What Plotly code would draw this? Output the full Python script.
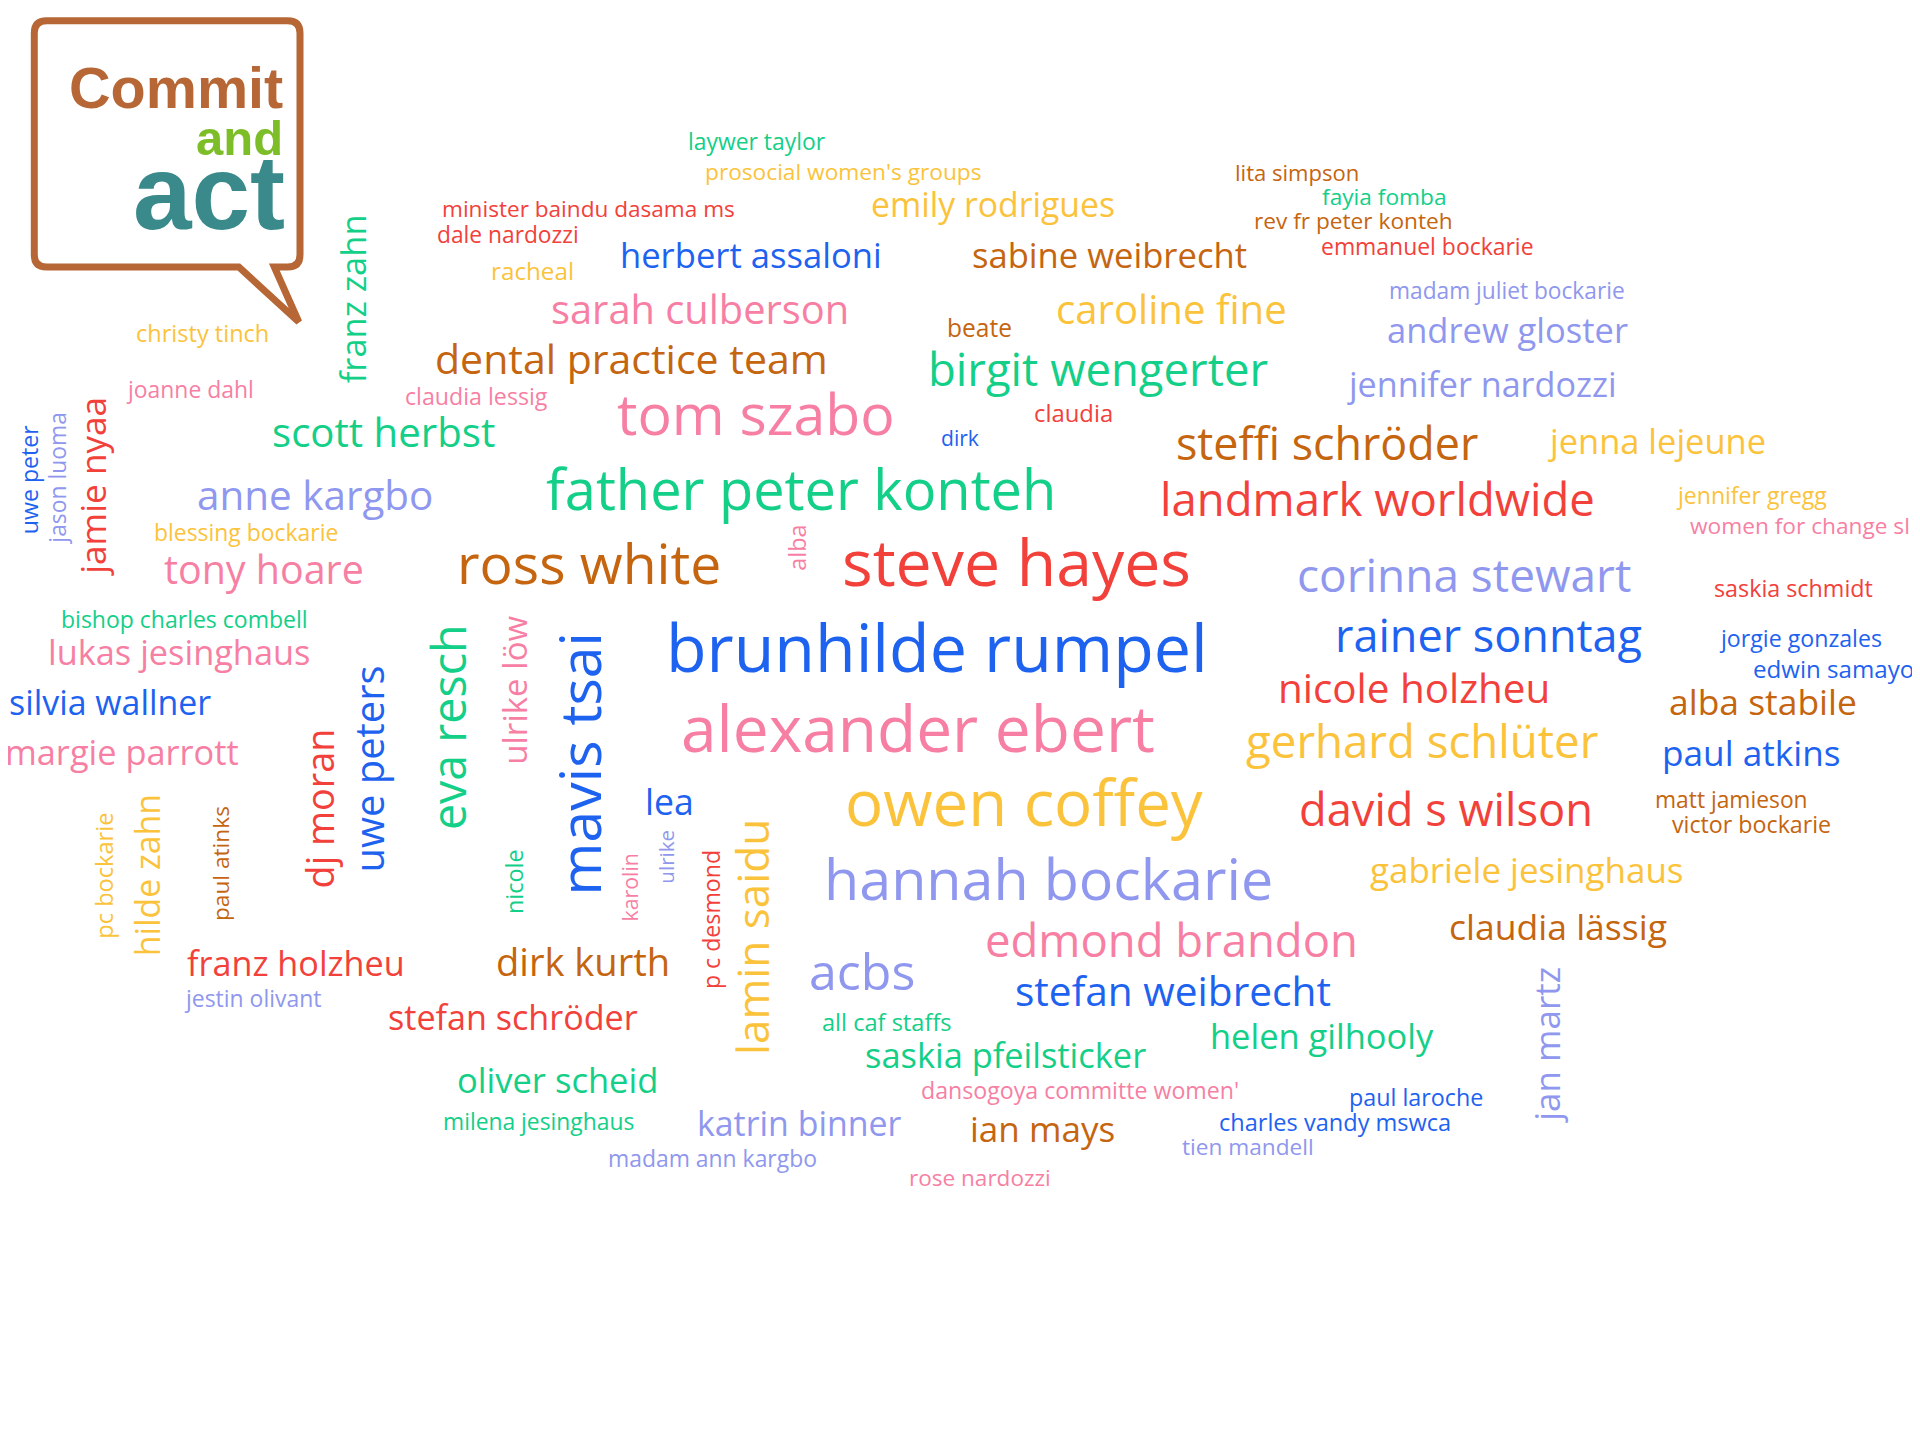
import plotly.graph_objects as go

# ---------------- data ----------------
BLUE, RED, PINK, GREEN = "#1E62F0", "#F2413B", "#F77FA4", "#13CF88"
YELLOW, BROWN, LAV = "#FBC33C", "#C5650F", "#8F97EE"

words = [
    "laywer taylor", "prosocial women's groups", "emily rodrigues", "minister baindu dasama ms",
    "dale nardozzi", "racheal", "herbert assaloni", "sabine weibrecht", "lita simpson",
    "fayia fomba", "rev fr peter konteh", "emmanuel bockarie", "madam juliet bockarie",
    "andrew gloster", "jennifer nardozzi", "sarah culberson", "beate", "caroline fine",
    "dental practice team", "birgit wengerter", "christy tinch", "joanne dahl",
    "claudia lessig", "tom szabo", "claudia", "dirk", "scott herbst", "steffi schröder",
    "jenna lejeune", "anne kargbo", "father peter konteh", "landmark worldwide",
    "jennifer gregg", "women for change sl", "blessing bockarie", "tony hoare",
    "ross white", "steve hayes", "corinna stewart", "saskia schmidt",
    "bishop charles combell", "lukas jesinghaus", "brunhilde rumpel", "rainer sonntag",
    "jorgie gonzales", "edwin samayoa", "nicole holzheu", "alba stabile", "silvia wallner",
    "margie parrott", "alexander ebert", "gerhard schlüter", "paul atkins", "lea",
    "owen coffey", "david s wilson", "matt jamieson", "victor bockarie", "hannah bockarie",
    "gabriele jesinghaus", "edmond brandon", "claudia lässig", "franz holzheu",
    "dirk kurth", "acbs", "jestin olivant", "stefan weibrecht", "stefan schröder",
    "all caf staffs", "saskia pfeilsticker", "helen gilhooly", "oliver scheid",
    "dansogoya committe women'", "paul laroche", "milena jesinghaus", "katrin binner",
    "ian mays", "charles vandy mswca", "madam ann kargbo", "tien mandell", "rose nardozzi",
    "franz zahn", "uwe peter", "jason luoma", "jamie nyaa", "alba", "eva resch",
    "ulrike löw", "mavis tsai", "uwe peters", "dj moran", "pc bockarie", "hilde zahn",
    "paul atinks", "nicole", "karolin", "ulrike", "p c desmond", "lamin saidu", "jan martz",
]

word_colors = [
    GREEN, YELLOW, YELLOW, RED, RED, YELLOW, BLUE, BROWN, BROWN, GREEN, BROWN, RED, LAV,
    LAV, LAV, PINK, BROWN, YELLOW, BROWN, GREEN, YELLOW, PINK, PINK, PINK, RED, BLUE,
    GREEN, BROWN, YELLOW, LAV, GREEN, RED, YELLOW, PINK, YELLOW, PINK, BROWN, RED, LAV,
    RED, GREEN, PINK, BLUE, BLUE, BLUE, BLUE, RED, BROWN, BLUE, PINK, PINK, YELLOW, BLUE,
    BLUE, YELLOW, RED, BROWN, BROWN, LAV, YELLOW, PINK, BROWN, RED, BROWN, LAV, LAV, BLUE,
    RED, GREEN, GREEN, GREEN, GREEN, PINK, BLUE, GREEN, LAV, BROWN, BLUE, LAV, LAV, PINK,
    GREEN, BLUE, LAV, RED, PINK, GREEN, PINK, BLUE, BLUE, RED, YELLOW, YELLOW, BROWN,
    GREEN, PINK, LAV, RED, YELLOW, LAV,
]

# ---------------- layout of the cloud (reference pixel frame 1568 x 1176) ----------------
word_x = [
    618, 689, 811, 481, 415, 435, 613, 906, 1059, 1131, 1105, 1166, 1231, 1231, 1210, 572,
    800, 957, 516, 897, 165, 155, 389, 617, 877, 784, 313, 1084, 1353, 257, 654, 1125, 1430,
    1470, 201, 216, 481, 830, 1196, 1465, 151, 146, 765, 1216, 1470, 1503, 1155, 1440, 90,
    100, 750, 1161, 1430, 547, 836, 1181, 1414, 1430, 856, 1247, 957, 1272, 242, 476, 704,
    206, 958, 419, 724, 821, 1080, 455, 882, 1156, 440, 653, 851, 1090, 582, 1019, 800,
    289, 24, 48, 76, 652, 368, 421, 475, 303, 262, 85, 121, 181, 420, 515, 545, 581, 615, 1264,
]
word_y = [
    116, 141, 168, 171, 192, 222, 209, 209, 141, 161, 181, 202, 238, 270, 315, 253, 268,
    253, 294, 302, 273, 319, 324, 339, 338, 358, 354, 363, 361, 405, 400, 408, 405, 430,
    435, 466, 461, 460, 470, 481, 506, 533, 530, 520, 522, 547, 563, 574, 574, 615, 596,
    606, 615, 655, 657, 662, 654, 674, 719, 711, 768, 757, 787, 786, 794, 816, 810, 832,
    835, 862, 847, 883, 891, 897, 917, 918, 923, 917, 947, 937, 962,
    244, 391, 391, 397, 447, 594, 564, 624, 628, 660, 715, 715, 705, 720, 725, 700, 751, 765, 853,
]
word_span = [
    112, 226, 200, 240, 116, 68, 214, 225, 102, 102, 162, 174, 193, 197, 219, 244, 53, 189,
    321, 278, 109, 103, 117, 227, 65, 31, 182, 247, 177, 193, 416, 356, 122, 180, 151, 163,
    216, 285, 273, 130, 202, 215, 444, 251, 132, 143, 223, 154, 166, 191, 387, 288, 146, 40,
    292, 241, 125, 130, 367, 257, 305, 179, 178, 142, 87, 111, 258, 204, 106, 230, 183, 165,
    260, 110, 157, 167, 119, 190, 171, 108, 116,
    138, 89, 107, 145, 38, 168, 122, 216, 169, 131, 103, 133, 94, 53, 56, 44, 114, 194, 126,
]
word_angle = [0] * 81 + [-90] * 19

# approximate Open Sans advance widths (em)
EM = {" ": .26, "a": .556, "b": .613, "c": .479, "d": .613, "e": .561, "f": .336, "g": .546,
      "h": .614, "i": .258, "j": .258, "k": .519, "l": .258, "m": .932, "n": .614, "o": .601,
      "p": .613, "q": .613, "r": .408, "s": .478, "t": .352, "u": .614, "v": .5, "w": .775,
      "x": .522, "y": .5, "z": .468, "'": .203, "ä": .556, "ö": .601, "ü": .614}

S = 1920 / 1568          # reference frame -> page pixels
OFF = 8 / S              # page body margin, in reference-frame units
FONT = "Open Sans"

fig = go.Figure()
fig.add_trace(go.Scatter(x=[0, 1568], y=[0, 1176], mode="markers",
                         marker=dict(opacity=0), hoverinfo="skip", showlegend=False))

annotations = []
for w, c, x, y, sp, ang in zip(words, word_colors, word_x, word_y, word_span, word_angle):
    em = sum(EM.get(ch, .55) for ch in w)
    fs = sp / em
    if ang == 0:
        ax, ay = x, y - 0.04 * fs
    else:
        ax, ay = x - 0.04 * fs, y
    annotations.append(dict(
        x=ax, y=ay, xref="x", yref="y", text=w, showarrow=False,
        textangle=ang, xanchor="center", yanchor="middle",
        font=dict(family=FONT, size=fs * S, color=c),
    ))

# ---------------- logo ----------------
LOGO_BROWN, LOGO_GREEN, LOGO_TEAL = "#B66735", "#7DBE28", "#3A8A8C"
bubble = ("M 38,17 L 235,17 Q 245,17 245,27 L 245,208 Q 245,218 235,218 "
          "L 224,218 L 244,263 L 195,218 L 38,218 Q 28,218 28,208 L 28,27 Q 28,17 38,17 Z")
fig.add_shape(type="path", path=bubble, xref="x", yref="y",
              line=dict(color=LOGO_BROWN, width=7), fillcolor="white", layer="below")

logo_font = "Liberation Sans"
annotations += [
    dict(x=233, y=72, xref="x", yref="y", text="<b>Commit</b>", showarrow=False,
         xanchor="right", yanchor="middle",
         font=dict(family=logo_font, size=47 * S, color=LOGO_BROWN)),
    dict(x=233, y=113, xref="x", yref="y", text="<b>and</b>", showarrow=False,
         xanchor="right", yanchor="middle",
         font=dict(family=logo_font, size=40 * S, color=LOGO_GREEN)),
    dict(x=234, y=157, xref="x", yref="y", text="<b>act</b>", showarrow=False,
         xanchor="right", yanchor="middle",
         font=dict(family=logo_font, size=86 * S, color=LOGO_TEAL)),
]

fig.update_layout(
    width=1920, height=1440, margin=dict(l=0, r=0, t=0, b=0),
    paper_bgcolor="white", plot_bgcolor="white",
    xaxis=dict(range=[OFF, 1568 + OFF], visible=False, fixedrange=True),
    yaxis=dict(range=[1176 + OFF, OFF], visible=False, fixedrange=True),
    annotations=annotations, showlegend=False,
)

fig.write_html("out.html")
